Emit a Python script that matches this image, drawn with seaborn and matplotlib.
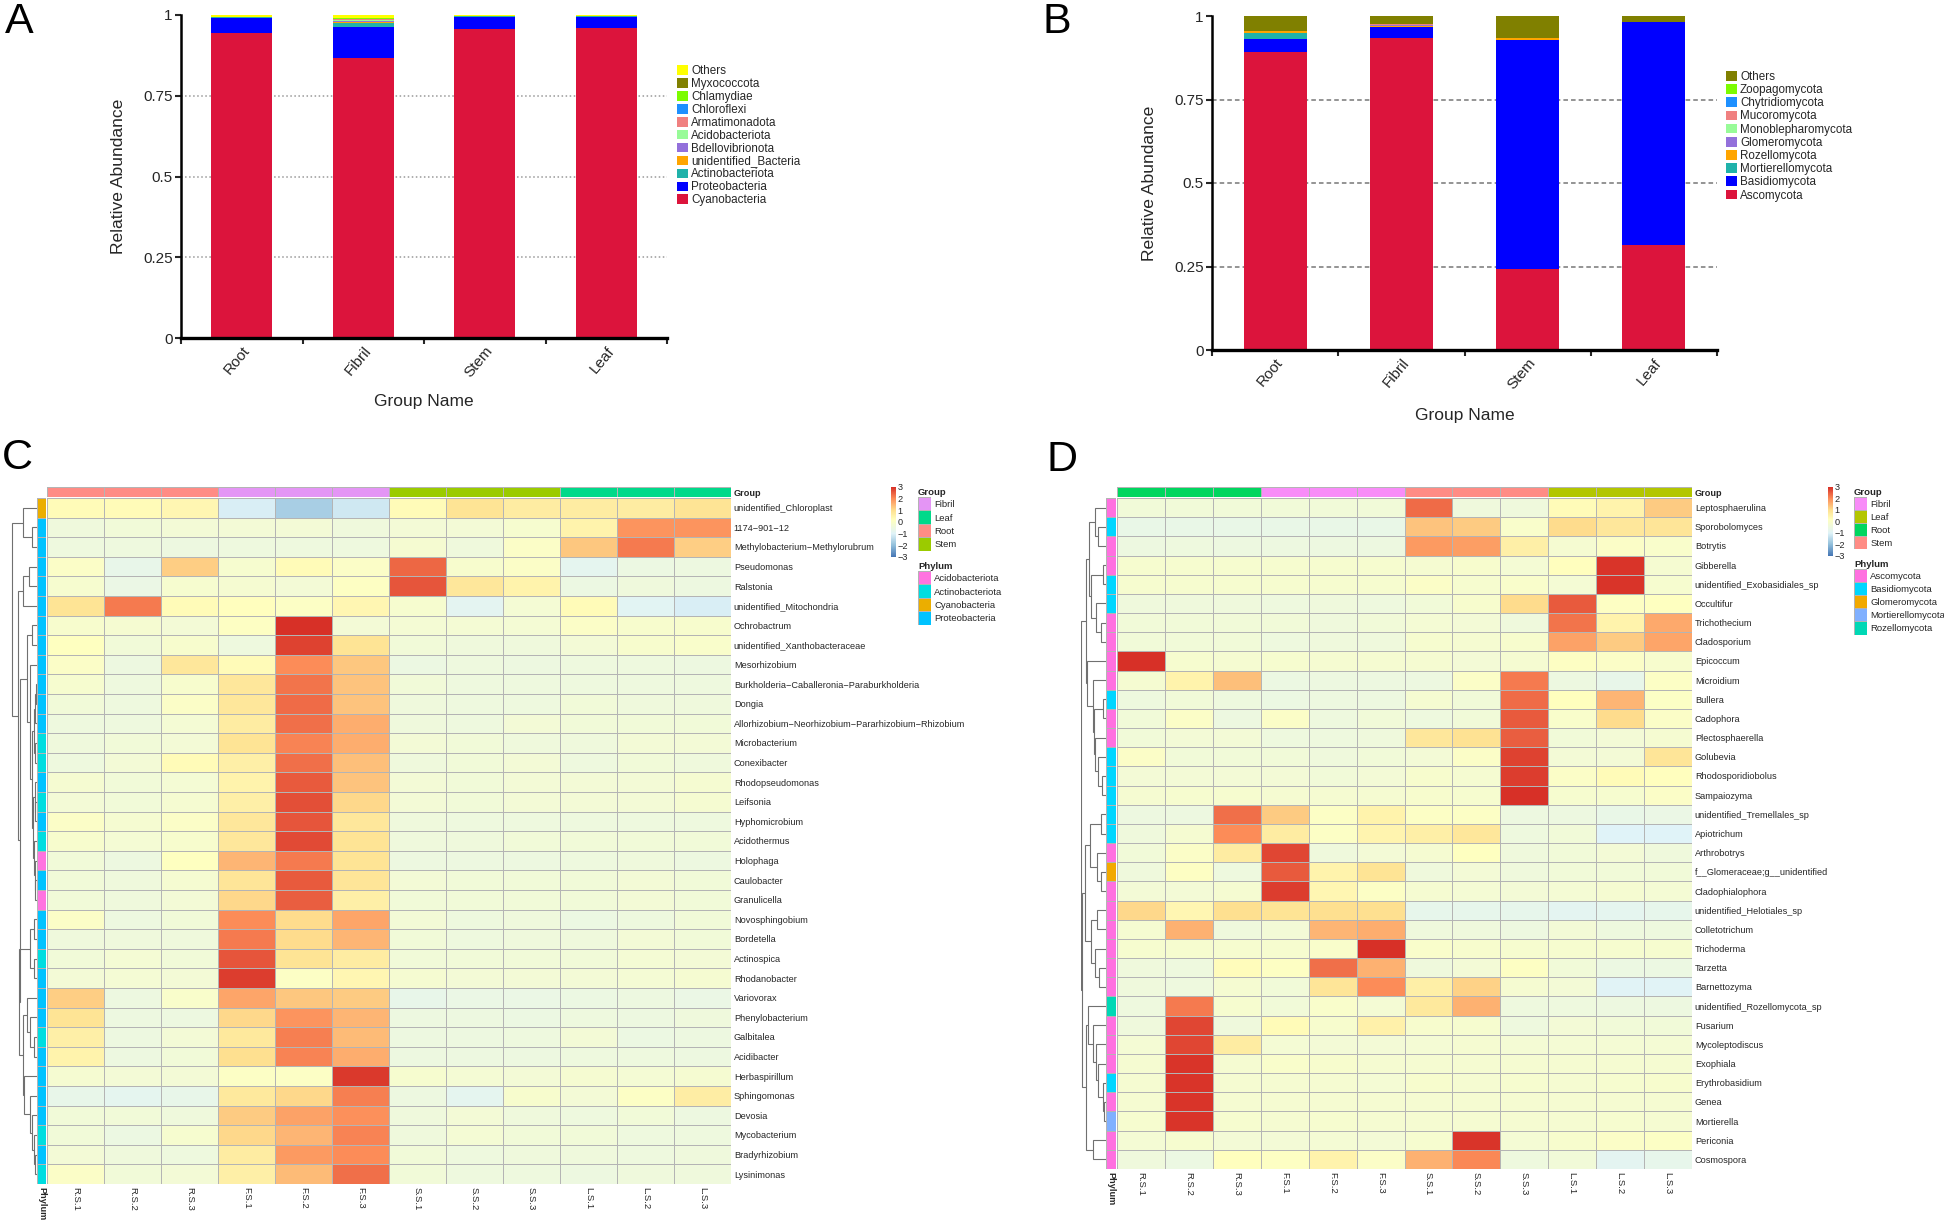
import numpy as np
import pandas as pd
import matplotlib
matplotlib.use("Agg")
import matplotlib.pyplot as plt
from matplotlib.colors import LinearSegmentedColormap, ListedColormap
import seaborn as sns

sns.set_theme(style="white")
plt.rcParams['font.family'] = ['Liberation Sans', 'DejaVu Sans']

W, H = 1944, 1224

# ---- stacked bars ----
groups = ["Root", "Fibril", "Stem", "Leaf"]

bact_names = ["Cyanobacteria", "Proteobacteria", "Actinobacteriota", "unidentified_Bacteria",
              "Bdellovibrionota", "Acidobacteriota", "Armatimonadota", "Chloroflexi",
              "Chlamydiae", "Myxococcota", "Others"]
bact_colors = ["#DC143C", "#0000FF", "#20B2AA", "#FFA500", "#9370DB", "#98FB98",
               "#F08080", "#1E90FF", "#7CFC00", "#808000", "#FFFF00"]
cyanobacteria = [0.945, 0.867, 0.956, 0.960]
proteobacteria = [0.047, 0.097, 0.039, 0.035]
actinobacteriota = [0.0005, 0.010, 0.0004, 0.0004]
unident_bacteria = [0.0005, 0.004, 0.0003, 0.0003]
bdellovibrionota = [0.0003, 0.004, 0.0002, 0.0002]
acidobacteriota = [0.0003, 0.002, 0.0002, 0.0002]
armatimonadota = [0.0003, 0.003, 0.0002, 0.0002]
chloroflexi = [0.0003, 0.002, 0.0002, 0.0002]
chlamydiae = [0.0002, 0.001, 0.0001, 0.0001]
myxococcota = [0.0005, 0.002, 0.0003, 0.0003]
bact_others = [0.0047, 0.008, 0.0031, 0.0031]
bact_values = [cyanobacteria, proteobacteria, actinobacteriota, unident_bacteria, bdellovibrionota,
               acidobacteriota, armatimonadota, chloroflexi, chlamydiae, myxococcota, bact_others]

fungi_names = ["Ascomycota", "Basidiomycota", "Mortierellomycota", "Rozellomycota", "Glomeromycota",
               "Monoblepharomycota", "Mucoromycota", "Chytridiomycota", "Zoopagomycota", "Others"]
fungi_colors = ["#DC143C", "#0000FF", "#20B2AA", "#FFA500", "#9370DB",
                "#98FB98", "#F08080", "#1E90FF", "#7CFC00", "#808000"]
ascomycota = [0.892, 0.934, 0.2415, 0.314]
basidiomycota = [0.038, 0.033, 0.6865, 0.668]
mortierellomycota = [0.018, 0.001, 0.001, 0.0002]
rozellomycota = [0.007, 0.002, 0.005, 0.0002]
glomeromycota = [0.0002, 0.003, 0.0002, 0.0001]
monoblepharomycota = [0.0001, 0.001, 0.0001, 0.0001]
mucoromycota = [0.0001, 0.002, 0.0001, 0.0001]
chytridiomycota = [0.0001, 0.001, 0.0001, 0.0001]
zoopagomycota = [0.0001, 0.0002, 0.0001, 0.0001]
fungi_others = [0.0445, 0.0228, 0.0656, 0.0172]
fungi_values = [ascomycota, basidiomycota, mortierellomycota, rozellomycota, glomeromycota,
                monoblepharomycota, mucoromycota, chytridiomycota, zoopagomycota, fungi_others]

# ---- heatmap C ----
c_samples = ["R.S.1", "R.S.2", "R.S.3", "F.S.1", "F.S.2", "F.S.3",
             "S.S.1", "S.S.2", "S.S.3", "L.S.1", "L.S.2", "L.S.3"]
c_genera = ["unidentified_Chloroplast", "1174−901−12", "Methylobacterium−Methylorubrum", "Pseudomonas",
            "Ralstonia", "unidentified_Mitochondria", "Ochrobactrum", "unidentified_Xanthobacteraceae",
            "Mesorhizobium", "Burkholderia−Caballeronia−Paraburkholderia", "Dongia",
            "Allorhizobium−Neorhizobium−Pararhizobium−Rhizobium", "Microbacterium", "Conexibacter",
            "Rhodopseudomonas", "Leifsonia", "Hyphomicrobium", "Acidothermus", "Holophaga", "Caulobacter",
            "Granulicella", "Novosphingobium", "Bordetella", "Actinospica", "Rhodanobacter", "Variovorax",
            "Phenylobacterium", "Galbitalea", "Acidibacter", "Herbaspirillum", "Sphingomonas", "Devosia",
            "Mycobacterium", "Bradyrhizobium", "Lysinimonas"]
c_values = [
    [0.3, 0.3, 0.4, -1.1, -1.7, -1.2, 0.3, 0.9, 0.7, 0.7, 0.7, 0.9],
    [-0.4, -0.35, -0.3, -0.3, -0.3, -0.4, -0.3, -0.3, -0.15, 0.5, 1.9, 1.9],
    [-0.45, -0.45, -0.5, -0.45, -0.45, -0.45, -0.2, -0.4, 0.0, 1.3, 2.2, 1.2],
    [0.0, -0.7, 1.2, -0.15, 0.3, 0.0, 2.4, -0.1, 0.0, -0.8, -0.55, -0.5],
    [-0.15, -0.6, -0.15, -0.2, -0.3, 0.1, 2.6, 0.8, 0.5, -0.55, -0.4, -0.5],
    [0.9, 2.2, 0.3, 0.2, 0.05, 0.4, -0.15, -0.85, -0.25, 0.3, -0.9, -1.1],
    [-0.1, -0.2, -0.3, 0.1, 3.0, -0.3, -0.25, -0.25, -0.25, 0.0, -0.1, -0.1],
    [0.15, -0.35, -0.1, -0.45, 2.8, 0.9, -0.35, -0.4, -0.4, -0.3, -0.1, -0.05],
    [0.0, -0.5, 0.8, 0.3, 2.0, 1.3, -0.55, -0.45, -0.5, -0.45, -0.45, -0.5],
    [-0.15, -0.45, -0.1, 0.8, 2.25, 1.35, -0.35, -0.45, -0.45, -0.45, -0.45, -0.45],
    [-0.35, -0.45, 0.0, 0.8, 2.35, 1.35, -0.4, -0.45, -0.45, -0.35, -0.4, -0.4],
    [-0.45, -0.45, -0.25, 0.7, 2.3, 1.6, -0.4, -0.45, -0.3, -0.35, -0.35, -0.35],
    [-0.4, -0.35, -0.3, 0.9, 2.1, 1.6, -0.3, -0.35, -0.4, -0.4, -0.3, -0.3],
    [-0.45, -0.3, 0.3, 0.6, 2.3, 1.4, -0.4, -0.35, -0.3, -0.45, -0.35, -0.4],
    [-0.2, -0.35, -0.25, 0.5, 2.55, 1.35, -0.3, -0.35, -0.3, -0.3, -0.3, -0.2],
    [-0.3, -0.35, -0.2, 0.6, 2.65, 1.1, -0.3, -0.35, -0.3, -0.3, -0.3, -0.2],
    [0.0, -0.2, 0.0, 0.8, 2.6, 0.8, -0.4, -0.45, -0.45, -0.45, -0.45, -0.45],
    [-0.1, -0.25, -0.1, 0.8, 2.7, 0.9, -0.4, -0.4, -0.35, -0.35, -0.35, -0.35],
    [-0.35, -0.5, 0.15, 1.5, 2.2, 0.9, -0.5, -0.5, -0.5, -0.45, -0.4, -0.5],
    [-0.35, -0.4, -0.2, 0.85, 2.55, 0.85, -0.3, -0.35, -0.35, -0.35, -0.3, -0.35],
    [-0.35, -0.4, -0.3, 1.1, 2.5, 0.6, -0.35, -0.35, -0.35, -0.35, -0.3, -0.35],
    [0.0, -0.5, -0.35, 2.0, 1.05, 1.7, -0.3, -0.45, -0.4, -0.55, -0.45, -0.35],
    [-0.4, -0.4, -0.4, 2.2, 1.05, 1.5, -0.35, -0.45, -0.4, -0.4, -0.3, -0.35],
    [-0.35, -0.25, -0.35, 2.6, 0.9, 0.7, -0.35, -0.35, -0.35, -0.35, -0.25, -0.3],
    [-0.3, -0.25, -0.3, 2.85, 0.05, 0.4, -0.2, -0.3, -0.3, -0.3, -0.25, -0.2],
    [1.2, -0.5, -0.05, 1.7, 1.3, 1.25, -0.7, -0.6, -0.6, -0.55, -0.5, -0.6],
    [0.9, -0.5, -0.5, 1.1, 1.9, 1.5, -0.5, -0.5, -0.55, -0.45, -0.5, -0.4],
    [0.6, -0.5, -0.3, 0.75, 2.15, 1.45, -0.5, -0.5, -0.45, -0.3, -0.55, -0.5],
    [0.5, -0.5, -0.35, 1.0, 2.1, 1.6, -0.5, -0.5, -0.5, -0.45, -0.45, -0.5],
    [-0.2, -0.3, -0.3, 0.05, 0.05, 2.9, -0.15, -0.25, -0.3, -0.2, -0.25, -0.2],
    [-0.7, -0.8, -0.7, 0.75, 1.1, 2.15, -0.5, -0.8, -0.1, -0.3, 0.05, 0.65],
    [-0.35, -0.35, -0.4, 1.25, 1.75, 1.95, -0.4, -0.3, -0.4, -0.45, -0.35, -0.5],
    [-0.35, -0.55, -0.15, 1.1, 1.5, 2.1, -0.4, -0.25, -0.35, -0.35, -0.45, -0.45],
    [-0.3, -0.4, -0.45, 0.7, 1.85, 2.0, -0.35, -0.45, -0.4, -0.4, -0.45, -0.4],
    [0.0, -0.35, -0.3, 0.6, 1.45, 2.3, -0.35, -0.45, -0.45, -0.5, -0.4, -0.4],
]
c_group_names = ["Fibril", "Leaf", "Root", "Stem"]
c_group_colors = ["#E495F5", "#00D98A", "#FF8C85", "#9BCB00"]
c_top_groups = [2, 2, 2, 0, 0, 0, 3, 3, 3, 1, 1, 1]
c_phylum_names = ["Acidobacteriota", "Actinobacteriota", "Cyanobacteria", "Proteobacteria"]
c_phylum_colors = ["#FF73E0", "#00DDE0", "#EBAE00", "#00C3FF"]
c_row_phyla = [2, 3, 3, 3, 3, 3, 3, 3, 3, 3, 3, 3, 1, 1, 3, 1, 3, 1, 0, 3, 0, 3, 3, 1, 3, 3, 3, 1, 3, 3, 3, 3, 1, 3, 1]
# (height, left, right), leaves are row numbers
c_tree = (1.0,
          (.53, 0, (.2, 1, 2)),
          (.75,
           (.55, (.3, 3, 4), 5),
           (.67,
            (.38, (.2, 6, 7),
             (.28, 8, (.2, (.12, (.06, (.04, 9, 10), 11), (.07, 12, 13)),
                       (.14, (.08, 14, (.05, 15, 16)), (.1, 17, (.07, 18, (.05, 19, 20))))))),
            (.7,
             (.28, (.1, 21, 22), (.1, 23, 24)),
             (.55,
              (.4, 25, (.25, 26, (.12, 27, 28))),
              (.5, 29, (.25, 30, (.18, 31, (.12, 32, (.08, 33, 34))))))))))

# ---- heatmap D ----
d_genera = ["Leptosphaerulina", "Sporobolomyces", "Botrytis", "Gibberella", "unidentified_Exobasidiales_sp",
            "Occultifur", "Trichothecium", "Cladosporium", "Epicoccum", "Microidium", "Bullera", "Cadophora",
            "Plectosphaerella", "Golubevia", "Rhodosporidiobolus", "Sampaiozyma", "unidentified_Tremellales_sp",
            "Apiotrichum", "Arthrobotrys", "f__Glomeraceae;g__unidentified", "Cladophialophora",
            "unidentified_Helotiales_sp", "Colletotrichum", "Trichoderma", "Tarzetta", "Barnettozyma",
            "unidentified_Rozellomycota_sp", "Fusarium", "Mycoleptodiscus", "Exophiala", "Erythrobasidium",
            "Genea", "Mortierella", "Periconia", "Cosmospora"]
d_values = [
    [-0.35, -0.35, -0.35, -0.35, -0.35, -0.35, 2.35, -0.4, -0.4, 0.3, 0.5, 1.25],
    [-0.65, -0.65, -0.65, -0.65, -0.65, -0.65, 1.35, 1.25, -0.05, 1.05, 0.8, 0.85],
    [-0.5, -0.45, -0.5, -0.5, -0.5, -0.5, 1.85, 1.8, 0.6, -0.2, 0.0, -0.05],
    [-0.15, -0.15, -0.15, -0.15, -0.15, -0.15, -0.2, -0.1, -0.25, 0.2, 2.95, -0.2],
    [-0.15, -0.15, -0.15, -0.15, -0.15, -0.15, 0.0, -0.15, -0.05, -0.25, 2.95, -0.15],
    [-0.4, -0.4, -0.4, -0.45, -0.4, -0.45, -0.35, -0.1, 1.05, 2.55, 0.1, 0.15],
    [-0.35, -0.35, -0.35, -0.35, -0.4, -0.35, -0.25, -0.3, -0.4, 2.25, 0.5, 1.65],
    [-0.35, -0.35, -0.35, -0.45, -0.4, -0.4, -0.15, -0.2, -0.1, 1.75, 1.25, 1.7],
    [3.0, -0.15, -0.2, -0.15, -0.2, -0.2, -0.2, -0.3, -0.2, 0.1, 0.0, -0.1],
    [-0.2, 0.5, 1.4, -0.55, -0.5, -0.5, -0.5, 0.0, 2.2, -0.5, -0.7, 0.05],
    [-0.45, -0.35, -0.45, -0.55, -0.5, -0.5, -0.2, -0.35, 2.35, 0.2, 1.5, 0.05],
    [-0.35, 0.0, -0.5, 0.0, -0.45, -0.35, -0.45, -0.35, 2.55, -0.05, 1.05, 0.0],
    [-0.35, -0.3, -0.3, -0.45, -0.45, -0.4, 0.8, 0.95, 2.5, -0.35, -0.3, -0.2],
    [0.0, -0.35, -0.35, -0.35, -0.4, -0.35, -0.3, 0.0, 2.8, -0.3, -0.3, 0.85],
    [-0.3, -0.3, -0.3, -0.3, -0.35, -0.3, -0.1, -0.2, 2.85, 0.0, 0.3, 0.2],
    [-0.2, -0.15, -0.15, -0.2, -0.2, -0.2, -0.1, -0.15, 3.0, -0.15, -0.15, 0.0],
    [-0.5, -0.5, 2.3, 1.25, 0.05, 0.5, 0.05, 0.05, -0.5, -0.5, -0.65, -0.6],
    [-0.4, -0.2, 2.0, 0.7, 0.05, 0.45, 0.6, 0.8, -0.45, -0.35, -1.0, -1.0],
    [-0.35, 0.0, 0.7, 2.75, -0.4, -0.3, -0.2, 0.15, -0.4, -0.35, -0.3, -0.4],
    [-0.4, 0.1, -0.45, 2.55, 0.5, 0.9, -0.4, -0.3, -0.4, -0.35, -0.35, -0.35],
    [-0.3, -0.3, -0.2, 2.85, 0.4, 0.05, -0.2, -0.25, -0.3, -0.25, -0.2, -0.25],
    [1.1, 0.4, 1.0, 0.9, 1.0, 1.0, -0.75, -0.75, -0.75, -0.85, -0.8, -0.75],
    [-0.2, 1.55, -0.4, -0.3, 1.5, 1.6, -0.4, -0.4, -0.5, -0.3, -0.45, -0.45],
    [-0.15, -0.15, -0.15, -0.15, -0.05, 3.0, -0.05, -0.1, -0.15, -0.15, -0.15, -0.15],
    [-0.4, -0.45, 0.25, 0.1, 2.3, 1.55, -0.4, -0.3, 0.1, -0.35, -0.55, -0.55],
    [-0.4, -0.45, -0.2, -0.35, 0.85, 2.0, 0.6, 1.15, -0.2, -0.3, -0.95, -0.95],
    [-0.45, 2.2, -0.15, -0.35, -0.05, -0.25, 0.75, 1.55, -0.45, -0.45, -0.5, -0.5],
    [-0.4, 2.75, -0.4, 0.3, -0.1, 0.55, -0.1, -0.15, -0.45, -0.3, -0.35, -0.35],
    [-0.25, 2.75, 0.7, -0.25, -0.3, -0.3, -0.25, -0.2, -0.25, -0.25, -0.25, -0.25],
    [-0.2, 2.95, -0.2, -0.05, -0.1, -0.2, -0.2, -0.2, -0.2, -0.2, -0.2, -0.2],
    [-0.2, 2.95, -0.2, -0.2, -0.2, -0.25, -0.1, -0.2, -0.15, -0.2, -0.15, -0.1],
    [-0.2, 2.95, -0.2, -0.2, -0.2, -0.2, -0.2, -0.2, -0.2, -0.2, -0.2, -0.2],
    [-0.15, 2.95, -0.15, -0.2, -0.15, -0.2, -0.2, -0.2, -0.2, -0.2, -0.15, -0.2],
    [-0.25, -0.15, -0.3, -0.3, -0.25, -0.3, -0.15, 2.95, -0.25, -0.1, 0.0, 0.05],
    [-0.4, -0.55, 0.2, 0.1, 0.5, 0.0, 1.55, 2.05, -0.45, -0.35, -0.85, -0.75],
]
d_group_names = ["Fibril", "Leaf", "Root", "Stem"]
d_group_colors = ["#F88CF8", "#B3C600", "#00D65F", "#FF8C85"]
d_top_groups = [2, 2, 2, 0, 0, 0, 3, 3, 3, 1, 1, 1]
d_phylum_names = ["Ascomycota", "Basidiomycota", "Glomeromycota", "Mortierellomycota", "Rozellomycota"]
d_phylum_colors = ["#FF70E0", "#00D6FF", "#F2A900", "#80B0FF", "#00D8B5"]
d_row_phyla = [0, 1, 0, 0, 1, 1, 0, 0, 0, 0, 1, 0, 0, 1, 1, 1, 1, 1, 0, 2, 0, 0, 0, 0, 0, 0, 4, 0, 0, 0, 1, 0, 3, 0, 0]
d_tree = (1.0,
          (.82,
           (.69, (.45, 0, (.33, 1, 2)), (.6, (.1, 3, 4), (.38, 5, (.17, 6, 7)))),
           (.78, 8, (.54, 9, (.47, (.12, 10, 11), (.42, 12, (.3, 13, (.15, 14, 15))))))),
          (.98,
           (.85,
            (.65, (.2, 16, 17), (.35, 18, (.2, 19, 20))),
            (.6, (.35, 21, 22), (.45, 23, (.25, 24, 25)))),
           (.8,
            (.72, 26, (.5, 27, (.4, 28, (.3, 29, (.12, 30, (.06, 31, 32)))))),
            (.5, 33, 34))))

heat_cmap = LinearSegmentedColormap.from_list(
    "rdylbu7", [(0, "#4575B4"), (1 / 6, "#91BFDB"), (2 / 6, "#E0F3F8"), (0.53, "#FFFFBF"),
                (4 / 6, "#FEE090"), (5 / 6, "#FC8D59"), (1, "#D73027")])
grid_color = "#B4B4B4"

fig = plt.figure(figsize=(W / 100, H / 100), dpi=100)


def px_axes(x0, y0, x1, y1):
    return fig.add_axes([x0 / W, 1 - y1 / H, (x1 - x0) / W, (y1 - y0) / H])


def stacked_panel(box, names, colors, values, grid_style, grid_color_, legend_xy, legend_gap, xlabel_pad):
    ax = px_axes(*box)
    bottom = np.zeros(len(groups))
    for name, color, vals in zip(names, colors, values):
        sns.barplot(x=groups, y=vals, bottom=bottom, color=color, saturation=1, width=0.5,
                    linewidth=0, errorbar=None, label=name, ax=ax)
        bottom = bottom + np.array(vals)
    for v in [0.25, 0.5, 0.75]:
        ax.axhline(v, color=grid_color_, lw=1.1, ls=grid_style, zorder=0)
    ax.set_ylim(0, 1)
    ax.set_xlim(-0.5, 3.5)
    ax.set_yticks([0, 0.25, 0.5, 0.75, 1], ["0", "0.25", "0.5", "0.75", "1"], fontsize=11)
    ax.set_xticks(np.arange(-0.5, 4, 1), minor=True)
    ax.tick_params(axis="x", which="major", length=0, pad=4, labelsize=11)
    ax.tick_params(axis="x", which="minor", length=4, width=1.5, bottom=True)
    ax.tick_params(axis="y", length=4, width=1.5, left=True, pad=2)
    plt.setp(ax.get_xticklabels(), rotation=50, ha="right", rotation_mode="anchor")
    sns.despine(ax=ax)
    ax.spines["left"].set_linewidth(1.8)
    ax.spines["left"].set_color("black")
    ax.spines["bottom"].set_linewidth(2.4)
    ax.spines["bottom"].set_color("black")
    ax.set_xlabel("Group Name", fontsize=12.5, labelpad=xlabel_pad)
    ax.set_ylabel("Relative Abundance", fontsize=12.6, labelpad=12)
    handles, labels = ax.get_legend_handles_labels()
    ax.legend(handles[::-1], labels[::-1], loc="upper left", frameon=False, fontsize=8.4,
              bbox_to_anchor=(legend_xy[0] / W, 1 - legend_xy[1] / H), bbox_transform=fig.transFigure,
              borderaxespad=0, borderpad=0, handlelength=0.9, handleheight=0.9, handletextpad=0.3,
              labelspacing=legend_gap)
    return ax


def strip(box, codes, colors, vertical=True, xlabels=False, ylabels=False, fontweight="normal", size=6.6):
    # one row or column of coded colour cells, also used for the legend keys
    ax = px_axes(*box)
    cells = np.array(codes).reshape(-1, 1) if vertical else np.array(codes).reshape(1, -1)
    sns.heatmap(pd.DataFrame(cells), cmap=ListedColormap(colors), vmin=-0.5, vmax=len(colors) - 0.5,
                cbar=False, linewidths=0.5, linecolor=grid_color, xticklabels=xlabels, yticklabels=ylabels, ax=ax)
    ax.tick_params(length=0, pad=2)
    ax.yaxis.tick_right()
    plt.setp(ax.get_yticklabels(), rotation=0, fontsize=size, fontweight=fontweight)
    plt.setp(ax.get_xticklabels(), rotation=270, fontsize=size, fontweight=fontweight)
    ax.set_xlabel("")
    ax.set_ylabel("")
    return ax


def draw_tree(ax, node):
    # returns (row centre, height) and draws the branches under this node
    if not isinstance(node, tuple):
        return node + 0.5, 0
    h, left, right = node
    y0, h0 = draw_tree(ax, left)
    y1, h1 = draw_tree(ax, right)
    ax.plot([h0, h, h, h1], [y0, y0, y1, y1], color="#707070", lw=0.8, solid_joinstyle="miter")
    return (y0 + y1) / 2, h


def heat_panel(heat_box, top_box, side_box, tree_box, cbar_box, values, genera, samples, tree,
               top_groups, group_names, group_colors, row_phyla, phylum_names, phylum_colors,
               legend_x, group_y, phylum_y, key_h):
    frame = pd.DataFrame(values, index=genera, columns=samples)
    ax = px_axes(*heat_box)
    cax = px_axes(*cbar_box)
    sns.heatmap(frame, cmap=heat_cmap, vmin=-3, vmax=3, linewidths=0.6, linecolor=grid_color,
                xticklabels=True, yticklabels=True, ax=ax, cbar_ax=cax,
                cbar_kws={"ticks": [-3, -2, -1, 0, 1, 2, 3]})
    ax.yaxis.tick_right()
    ax.tick_params(length=0, pad=2)
    plt.setp(ax.get_yticklabels(), rotation=0, fontsize=6.6)
    plt.setp(ax.get_xticklabels(), rotation=270, fontsize=6.8)
    cax.tick_params(length=0, labelsize=6.6, pad=1)
    ax.collections[0].colorbar.outline.set_visible(False)

    strip(top_box, top_groups, group_colors, vertical=False, ylabels=["Group"], fontweight="bold")
    strip(side_box, row_phyla, phylum_colors, xlabels=["Phylum"], fontweight="bold")

    tax = px_axes(*tree_box)
    draw_tree(tax, tree)
    tax.set_ylim(len(genera), 0)
    tax.set_xlim(1.02, 0)
    tax.axis("off")

    kx0, kx1 = legend_x, legend_x + 13.4
    for title, names, colors, y0 in [("Group", group_names, group_colors, group_y),
                                     ("Phylum", phylum_names, phylum_colors, phylum_y)]:
        kax = strip((kx0, y0, kx1, y0 + key_h * len(names)), list(range(len(names))), colors,
                    ylabels=names, size=6.8)
        kax.set_title(title, loc="left", fontsize=6.8, fontweight="bold", pad=1.5, x=0)


stacked_panel((181, 15, 667, 338), bact_names, bact_colors, bact_values, ":", "#999999", (677, 65), 0.08, 10)
stacked_panel((1212, 16, 1717, 350), fungi_names, fungi_colors, fungi_values, (0, (3, 2)), "#777777", (1726, 71), 0.1, 12)

heat_panel((47, 498, 731, 1184), (47, 487, 731, 497), (37, 498, 46, 1184), (11, 498, 36.5, 1184),
           (891, 487, 896, 557), c_values, c_genera, c_samples, c_tree,
           c_top_groups, c_group_names, c_group_colors, c_row_phyla, c_phylum_names, c_phylum_colors,
           918, 497, 571, 13.4)
heat_panel((1117, 498, 1692, 1169), (1117, 487, 1692, 497), (1106, 498, 1116, 1169), (1081, 498, 1105.5, 1169),
           (1828, 487, 1833, 556), d_values, d_genera, c_samples, d_tree,
           d_top_groups, d_group_names, d_group_colors, d_row_phyla, d_phylum_names, d_phylum_colors,
           1854, 497, 569, 13.1)

for letter, x, y in [("A", 5, 33), ("B", 1042, 33), ("C", 2, 469), ("D", 1047, 471)]:
    fig.text(x / W, 1 - y / H, letter, fontsize=31, color="black", ha="left", va="baseline")

fig.savefig("out.png", dpi=100, facecolor="white")
